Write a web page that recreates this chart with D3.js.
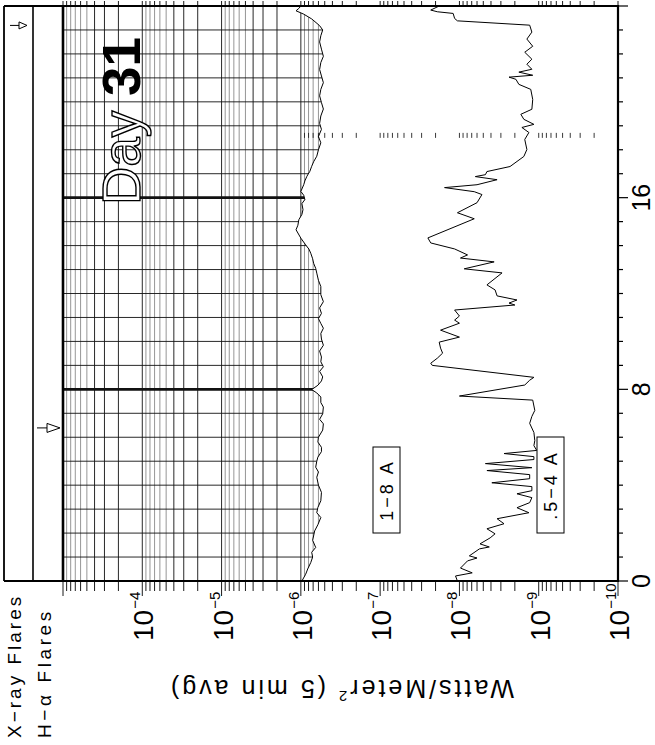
<!DOCTYPE html>
<html>
<head>
<meta charset="utf-8">
<script src="https://cdn.jsdelivr.net/npm/d3@7"></script>
<style>
  html, body { margin: 0; padding: 0; background: #fff; }
  svg { display: block; font-family: "Liberation Sans", Arial, Helvetica, sans-serif; }
</style>
</head>
<body>
<svg id="chart" width="655" height="745"></svg>
<script>
// GOES x-ray flux, one day, drawn rotated (time runs up the page)

// 1-8 A channel
const longHours = [0, 0.28, 0.5, 0.77, 1.0, 1.2, 1.40, 1.7, 2.09, 2.35, 2.65, 2.85, 3.07, 3.35, 3.70,
  4.0, 4.33, 4.55, 4.75, 5.0, 5.17, 5.4, 5.58, 5.8, 6.00, 6.3, 6.56, 6.75, 6.98, 7.26, 7.45, 7.68,
  7.85, 7.99, 8.17, 8.35, 8.52, 8.75, 8.94, 9.15, 9.35, 9.6, 9.84, 10.1, 10.33, 10.55, 10.75, 10.95,
  11.17, 11.4, 11.66, 11.95, 12.29, 12.55, 12.85, 13.05, 13.26, 13.45, 13.68, 13.85, 14.03, 14.31,
  14.66, 14.85, 15.08, 15.3, 15.50, 15.75, 15.92, 16.1, 16.26, 16.54, 16.7, 16.89, 17.1, 17.31,
  17.5, 17.73, 18.0, 18.29, 18.55, 18.85, 19.1, 19.41, 19.7, 19.97, 20.25, 20.52, 20.8, 21.08,
  21.35, 21.64, 21.9, 22.20, 22.5, 22.76, 23.0, 23.18, 23.46, 23.66, 23.80, 23.90, 24.0];
const longFlux = [9.7e-7, 8.7e-7, 8.2e-7, 7.5e-7, 7.1e-7, 7.3e-7, 6.5e-7, 7.1e-7, 6.7e-7, 6.1e-7,
  5.6e-7, 6.3e-7, 6.1e-7, 5.6e-7, 5.5e-7, 6.0e-7, 6.3e-7, 6.0e-7, 6.5e-7, 6.3e-7, 6.1e-7, 5.5e-7,
  5.5e-7, 6.1e-7, 6.0e-7, 5.3e-7, 5.2e-7, 5.8e-7, 5.3e-7, 5.2e-7, 5.6e-7, 5.6e-7, 6.3e-7, 7.3e-7,
  6.1e-7, 5.5e-7, 5.3e-7, 5.8e-7, 5.2e-7, 5.6e-7, 5.5e-7, 5.8e-7, 5.2e-7, 5.5e-7, 5.6e-7, 5.2e-7,
  5.6e-7, 6.0e-7, 5.5e-7, 5.8e-7, 5.2e-7, 5.6e-7, 5.6e-7, 6.0e-7, 6.3e-7, 6.5e-7, 6.9e-7, 7.1e-7,
  7.5e-7, 7.9e-7, 8.7e-7, 1.0e-6, 1.15e-6, 1.09e-6, 1.06e-6, 9.7e-7, 9.4e-7, 9.7e-7, 8.9e-7,
  9.2e-7, 1.0e-6, 9.2e-7, 8.9e-7, 8.4e-7, 7.7e-7, 7.3e-7, 6.9e-7, 6.3e-7, 6.0e-7, 5.6e-7, 6.0e-7,
  5.5e-7, 5.8e-7, 5.6e-7, 5.2e-7, 5.5e-7, 5.8e-7, 5.6e-7, 5.2e-7, 5.5e-7, 5.8e-7, 5.6e-7, 5.2e-7,
  5.5e-7, 5.8e-7, 5.6e-7, 5.3e-7, 5.8e-7, 7.3e-7, 9.2e-7, 1.15e-6, 1.06e-6, 1.0e-6];

// .5-4 A channel
const shortHours = [0.00, 0.21, 0.34, 0.54, 0.84, 0.96, 1.05, 1.34, 1.42, 1.55, 1.80, 1.97, 2.18,
  2.39, 2.60, 2.85, 3.06, 3.27, 3.48, 3.64, 3.77, 3.94, 4.10, 4.27, 4.44, 4.61, 4.73, 4.90, 5.07,
  5.19, 5.32, 5.45, 5.65, 5.86, 6.20, 6.58, 6.87, 7.12, 7.55, 7.72, 8.18, 8.38, 8.50, 9.00, 9.09,
  9.30, 9.51, 9.72, 9.97, 10.18, 10.47, 10.76, 10.89, 11.06, 11.31, 11.52, 11.60, 11.73, 11.90,
  12.15, 12.36, 12.86, 13.03, 13.32, 13.48, 13.61, 13.86, 14.11, 14.32, 15.12, 15.37, 15.79, 16.13,
  16.25, 16.42, 16.54, 16.75, 16.88, 16.96, 17.09, 17.30, 17.72, 18.01, 18.43, 18.72, 18.93, 19.06,
  19.27, 19.48, 19.69, 20.10, 20.52, 20.73, 20.94, 21.03, 21.11, 21.24, 21.36, 21.57, 21.78, 22.07,
  22.32, 22.62, 22.91, 23.20, 23.38, 23.48, 23.69, 23.76, 23.83, 24.0];
const shortFlux = [1.06e-8, 1.12e-8, 6.9e-9, 9.7e-9, 7.9e-9, 6.0e-9, 7.5e-9, 5.6e-9, 4.2e-9, 5.5e-9,
  4.1e-9, 3.55e-9, 4.5e-9, 2.74e-9, 3.35e-9, 1.33e-9, 1.88e-9, 1.3e-9, 1.22e-9, 1.88e-9, 1.22e-9,
  1.22e-9, 3.9e-9, 1.3e-9, 1.3e-9, 4.5e-9, 1.22e-9, 4.7e-9, 1.15e-9, 1.15e-9, 2.74e-9, 1.06e-9,
  1.15e-9, 1.12e-9, 1.15e-9, 1.3e-9, 1.22e-9, 1.12e-9, 1.19e-9, 1.0e-8, 1.5e-9, 1.3e-9, 1.15e-9,
  2.2e-8, 2.3e-8, 1.9e-8, 1.63e-8, 1.73e-8, 1.8e-8, 1.0e-8, 1.73e-8, 1.0e-8, 1.15e-8, 1.0e-8,
  1.15e-8, 2.0e-9, 2.37e-9, 1.88e-9, 3.35e-9, 3.55e-9, 4.5e-9, 2.9e-9, 8.7e-9, 3.65e-9, 9.7e-9,
  7.9e-9, 1.15e-8, 2.3e-8, 2.5e-8, 6.5e-9, 1.06e-8, 6.0e-9, 5.2e-9, 6.5e-9, 1.54e-8, 6.0e-9,
  3.35e-9, 6.3e-9, 4.7e-9, 4.5e-9, 2.3e-9, 1.54e-9, 1.41e-9, 1.5e-9, 1.33e-9, 1.63e-9, 1.15e-9,
  1.54e-9, 1.68e-9, 1.22e-9, 1.19e-9, 1.26e-9, 1.78e-9, 1.94e-9, 2.37e-9, 1.19e-9, 1.78e-9,
  1.22e-9, 1.41e-9, 1.22e-9, 1.5e-9, 1.19e-9, 1.41e-9, 1.22e-9, 1.3e-9, 1.06e-8, 1.15e-8, 1.2e-8,
  1.9e-8, 2.3e-8, 1.8e-8];

const xrayFlareHours = [23.19];
const haFlareHours = [6.39];
const fluxLabelExps = [-4, -5, -6, -7, -8, -9, -10];
const hourLabels = [0, 8, 16];
const boldHours = [8, 16];
const gapRowHour = 18.6;
const dayNumber = 31;

const svg = d3.select('#chart');
const plot = { left: 63, right: 618, top: 6, bottom: 581 };
const strip = { outer: 4, mid: 33 };

const x = d3.scaleLog().domain([1e-3, 1e-10]).range([plot.left, plot.right]);
const y = d3.scaleLinear().domain([0, 24]).range([plot.bottom, plot.top]);

// every 1..9 x decade between 1e-10 and 1e-3
const logValues = [];
d3.range(-10, -3).forEach(e => {
  d3.range(1, 10).forEach(k => logValues.push(k * Math.pow(10, e)));
});
logValues.push(1e-3);
const leading = v => Math.round(v / Math.pow(10, Math.floor(Math.log10(v) + 1e-9)));

const longData = longHours.map((h, i) => ({ h, f: longFlux[i] }));
const shortData = shortHours.map((h, i) => ({ h, f: shortFlux[i] }));

// grid shows only on the high-flux side of the 1-8 A curve
svg.append('clipPath').attr('id', 'gridClip').append('path')
  .attr('d', d3.area().y(d => y(d.h)).x0(plot.left).x1(d => x(d.f))(longData));

const grid = svg.append('g').attr('clip-path', 'url(#gridClip)');
grid.selectAll('line.v').data(logValues).join('line')
  .attr('class', 'v')
  .attr('x1', d => x(d)).attr('x2', d => x(d))
  .attr('y1', plot.top).attr('y2', plot.bottom)
  .attr('stroke', d => [1, 2, 3, 4].includes(leading(d)) ? '#111' : '#8a8a8a')
  .attr('stroke-width', 0.9);
grid.selectAll('line.h').data(d3.range(1, 24)).join('line')
  .attr('class', 'h')
  .attr('x1', plot.left).attr('x2', plot.right)
  .attr('y1', d => y(d)).attr('y2', d => y(d))
  .attr('stroke', '#111')
  .attr('stroke-width', d => boldHours.includes(d) ? 2.6 : 0.9);

// row of log marks across the day at one time
svg.append('g').selectAll('line').data(logValues.filter(v => v < 1e-6 && v > 1e-10)).join('line')
  .attr('x1', d => x(d)).attr('x2', d => x(d))
  .attr('y1', y(gapRowHour) - 2.5).attr('y2', y(gapRowHour) + 2.5)
  .attr('stroke', '#222').attr('stroke-width', 0.9);

const line = d3.line().x(d => x(d.f)).y(d => y(d.h));
svg.append('path').datum(longData).attr('d', line)
  .attr('fill', 'none').attr('stroke', '#000').attr('stroke-width', 1);
svg.append('path').datum(shortData).attr('d', line)
  .attr('fill', 'none').attr('stroke', '#000').attr('stroke-width', 1);

// frame
const frame = svg.append('g').attr('stroke', '#000').attr('fill', 'none');
frame.append('line').attr('x1', strip.outer).attr('x2', plot.right)
  .attr('y1', plot.top).attr('y2', plot.top).attr('stroke-width', 2);
frame.append('line').attr('x1', strip.outer).attr('x2', plot.right)
  .attr('y1', plot.bottom).attr('y2', plot.bottom).attr('stroke-width', 2.2);
frame.append('line').attr('x1', strip.outer).attr('x2', strip.outer)
  .attr('y1', plot.top).attr('y2', plot.bottom).attr('stroke-width', 1.8);
frame.append('line').attr('x1', strip.mid).attr('x2', strip.mid)
  .attr('y1', plot.top).attr('y2', plot.bottom).attr('stroke-width', 1.6);
frame.append('line').attr('x1', plot.left).attr('x2', plot.left)
  .attr('y1', plot.top).attr('y2', plot.bottom).attr('stroke-width', 2.6);
frame.append('line').attr('x1', plot.right).attr('x2', plot.right)
  .attr('y1', plot.top - 1).attr('y2', plot.bottom + 1).attr('stroke-width', 2.2);

// flux ticks, bottom (outward) and top
const ticks = svg.append('g').attr('stroke', '#000').attr('stroke-width', 0.9);
ticks.selectAll('line.b').data(logValues).join('line')
  .attr('class', 'b')
  .attr('x1', d => x(d)).attr('x2', d => x(d))
  .attr('y1', plot.bottom).attr('y2', d => plot.bottom + (leading(d) === 1 ? 15 : 10));
ticks.selectAll('line.t').data(logValues).join('line')
  .attr('class', 't')
  .attr('x1', d => x(d)).attr('x2', d => x(d))
  .attr('y1', plot.top).attr('y2', plot.top - 5);

// hour ticks on the right
ticks.selectAll('line.r').data(d3.range(0, 25)).join('line')
  .attr('class', 'r')
  .attr('x1', plot.right).attr('x2', d => plot.right + (d % 8 === 0 ? 10 : 5))
  .attr('y1', d => y(d)).attr('y2', d => y(d))
  .attr('stroke-width', 1.2);

svg.append('g').selectAll('text').data(hourLabels).join('text')
  .attr('transform', d => `translate(650,${y(d)}) rotate(-90)`)
  .attr('text-anchor', 'middle')
  .attr('font-size', 25)
  .text(d => d);

// flux labels 10^-n
const fluxLab = svg.append('g').selectAll('text').data(fluxLabelExps).join('text')
  .attr('transform', d => `translate(${x(Math.pow(10, d)) + 11},641) rotate(-90)`)
  .attr('font-size', 28);
fluxLab.append('tspan').text('10');
fluxLab.append('tspan').attr('font-size', 15).attr('dy', -13).attr('dx', 1)
  .text(d => '\u2212' + Math.abs(d));

// axis title, upside down
const title = svg.append('text')
  .attr('transform', 'translate(341,680) rotate(180)')
  .attr('text-anchor', 'middle')
  .attr('font-size', 25)
  .attr('letter-spacing', 3);
title.append('tspan').text('Watts/Meter');
title.append('tspan').attr('font-size', 15).attr('dy', -11).text('2');
title.append('tspan').attr('dy', 11).text(' (5 min avg)');

// flare strip labels
svg.append('text')
  .attr('transform', 'translate(21,738) rotate(-90)')
  .attr('font-size', 19).attr('letter-spacing', 3)
  .text('X\u2212ray Flares');
svg.append('text')
  .attr('transform', 'translate(51,738) rotate(-90)')
  .attr('font-size', 19).attr('letter-spacing', 3.6)
  .text('H\u2212\u03b1 Flares');

// flare arrows
function arrow(x0, xm, x1, hy, half) {
  const g = svg.append('g').attr('stroke', '#000').attr('stroke-width', 1).attr('fill', '#fff');
  g.append('line').attr('x1', x0).attr('x2', xm).attr('y1', hy).attr('y2', hy);
  g.append('path').attr('d', `M${xm},${hy - half}L${x1},${hy}L${xm},${hy + half}Z`);
}
xrayFlareHours.forEach(h => arrow(10, 19, 27, y(h), 3.5));
haFlareHours.forEach(h => arrow(37, 47, 60, y(h), 4.5));

// channel label boxes
function channelBox(bx, by, bw, bh, label) {
  svg.append('rect').attr('x', bx).attr('y', by).attr('width', bw).attr('height', bh)
    .attr('fill', '#fff').attr('stroke', '#000').attr('stroke-width', 1);
  svg.append('text')
    .attr('transform', `translate(${bx + bw / 2 + 6.5},${by + bh / 2}) rotate(-90)`)
    .attr('text-anchor', 'middle').attr('font-size', 18).attr('letter-spacing', 3)
    .text(label);
}
channelBox(373, 447, 27, 86, '1\u22128 A');
channelBox(537, 437, 27, 96, '.5\u22124 A');

// day label
const day = svg.append('text')
  .attr('transform', 'translate(140,205) rotate(-90)')
  .attr('font-size', 53);
day.append('tspan').attr('fill', '#fff').attr('stroke', '#000').attr('stroke-width', 1.4)
  .text('Day ');
day.append('tspan').attr('font-weight', 'bold').attr('fill', '#000').text(dayNumber);
</script>
</body>
</html>
